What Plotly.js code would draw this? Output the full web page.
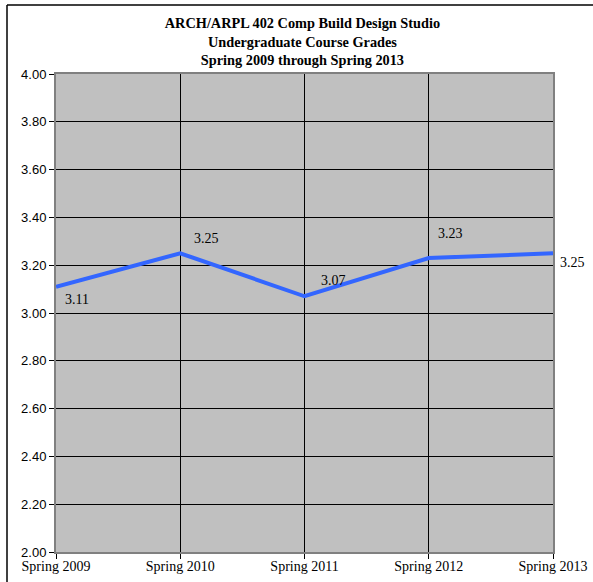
<!DOCTYPE html>
<html>
<head>
<meta charset="utf-8">
<script src="https://cdn.plot.ly/plotly-3.0.1.min.js"></script>
<style>html,body{margin:0;padding:0;background:#fff;}#chart{width:593px;height:582px;}</style>
</head>
<body>
<div id="chart"></div>
<script>
var categories = ["Spring 2009", "Spring 2010", "Spring 2011", "Spring 2012", "Spring 2013"];
var grades = [3.11, 3.25, 3.07, 3.23, 3.25];
var labelShiftX = [21, 26, 29, 22, 19];
var labelShiftY = [-13, 15, 16, 25, -9];

var W = 593, H = 582, L = 56, R = 40, T = 74, B = 30;
var pw = W - L - R, ph = H - T - B;
function px(x) { return (x - L) / pw; }
function py(y) { return (H - B - y) / ph; }

var annotations = grades.map(function (v, i) {
  return {
    x: categories[i], y: v, xref: 'x', yref: 'y',
    text: v.toFixed(2), showarrow: false,
    xshift: labelShiftX[i], yshift: labelShiftY[i],
    font: {family: 'Liberation Serif, Times New Roman, serif', size: 14, color: '#000'}
  };
});

var trace = {
  x: categories, y: grades, type: 'scatter', mode: 'lines',
  line: {color: '#3366FF', width: 4}, hoverinfo: 'none', cliponaxis: false
};

var layout = {
  width: W, height: H,
  margin: {l: L, r: R, t: T, b: B, pad: 0},
  paper_bgcolor: '#ffffff', plot_bgcolor: '#c0c0c0',
  showlegend: false,
  title: {
    text: 'ARCH/ARPL 402 Comp Build Design Studio<br>Undergraduate Course Grades<br>Spring 2009 through Spring 2013',
    font: {family: 'Liberation Serif, Times New Roman, serif', size: 14.3, color: '#000', weight: 'bold'},
    x: 0.51, xanchor: 'center', y: 1 - 28 / H, yanchor: 'top'
  },
  xaxis: {
    type: 'category', range: [0, 4], autorange: false,
    showgrid: true, gridcolor: '#000', gridwidth: 1,
    showline: true, linecolor: '#808080', linewidth: 2, mirror: true,
    ticks: 'outside', ticklen: 5, tickcolor: '#000', tickwidth: 1,
    ticklabelstandoff: -5,
    tickfont: {family: 'Liberation Serif, Times New Roman, serif', size: 14, color: '#000'},
    zeroline: false, fixedrange: true
  },
  yaxis: {
    range: [2, 4], autorange: false, dtick: 0.2, tick0: 2, tickformat: '.2f',
    showgrid: true, gridcolor: '#000', gridwidth: 1,
    showline: true, linecolor: '#808080', linewidth: 2, mirror: true,
    ticks: 'outside', ticklen: 5, tickcolor: '#000', tickwidth: 1,
    tickfont: {family: 'Liberation Sans, Arial, sans-serif', size: 13, color: '#000'},
    zeroline: false, fixedrange: true
  },
  annotations: annotations,
  shapes: [
    {type: 'line', xref: 'paper', yref: 'paper', x0: px(7), x1: px(7), y0: py(5), y1: py(H + 2), line: {color: '#000', width: 1.5}},
    {type: 'line', xref: 'paper', yref: 'paper', x0: px(7), x1: px(W + 2), y0: py(5), y1: py(5), line: {color: '#000', width: 1.5}}
  ]
};

Plotly.newPlot('chart', [trace], layout, {displayModeBar: false, staticPlot: true});
</script>
</body>
</html>
